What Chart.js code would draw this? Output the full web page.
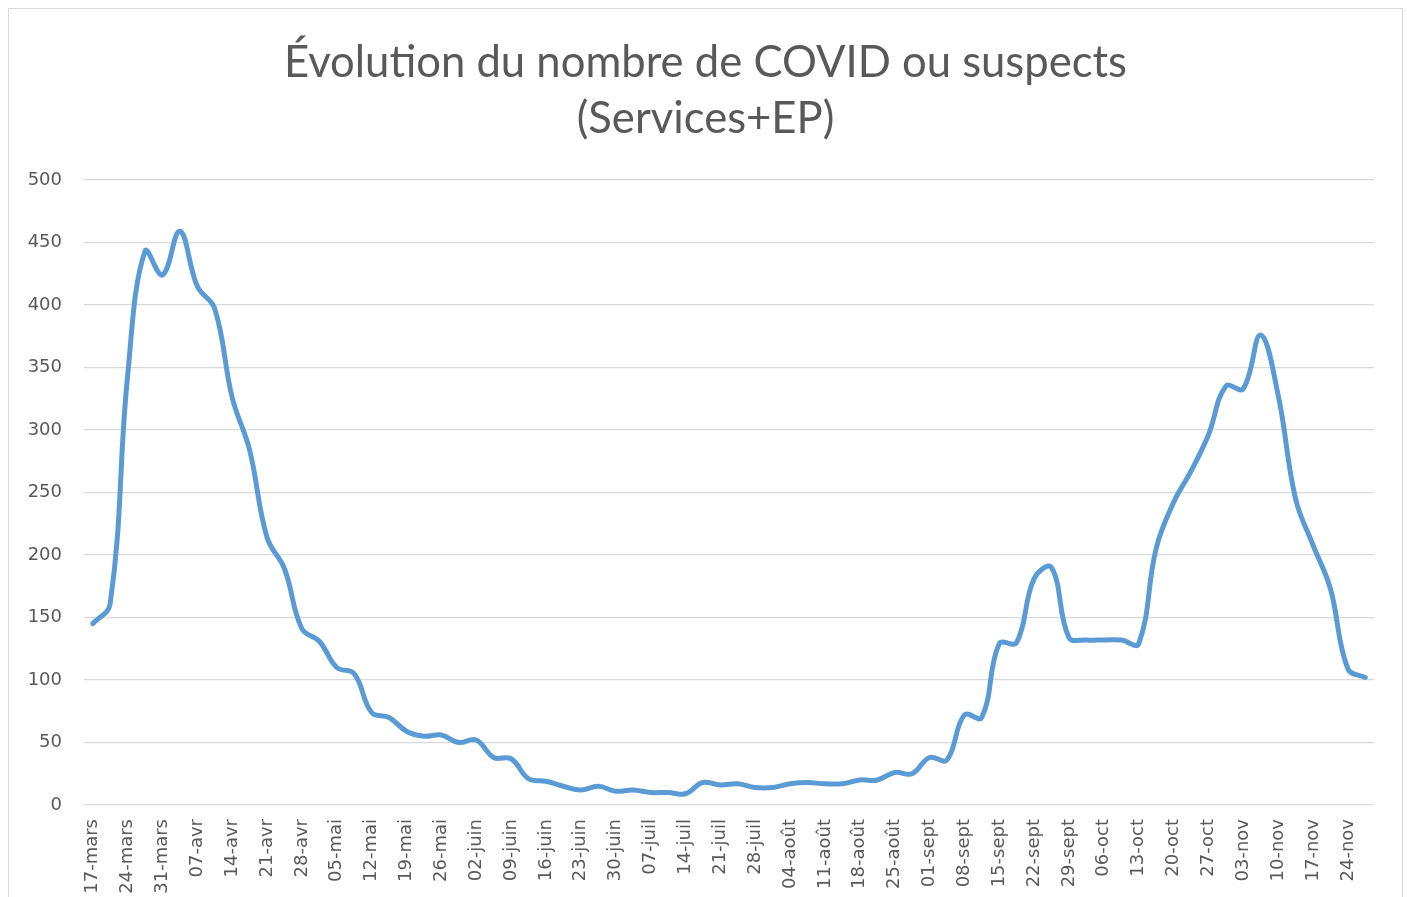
<!DOCTYPE html>
<html lang="fr">
<head>
<meta charset="UTF-8">
<title>Évolution du nombre de COVID ou suspects</title>
<script src="https://cdn.jsdelivr.net/npm/chart.js"></script>
<style>
  html, body { margin: 0; padding: 0; background: #ffffff; }
  #box {
    position: absolute; left: 8px; top: 8px;
    width: 1395px; height: 900px;
    border: 1px solid #d9d9d9; box-sizing: border-box;
  }
  #covidChart { display: block; }
</style>
</head>
<body>
<div id="box"><canvas id="covidChart" width="1393" height="898"></canvas></div>
<script>
  // dates (relevés mardi / vendredi)
  var dates = [
    '17-mars', '20-mars', '24-mars', '27-mars', '31-mars',
    '03-avr', '07-avr', '10-avr', '14-avr', '17-avr', '21-avr', '24-avr', '28-avr',
    '01-mai', '05-mai', '08-mai', '12-mai', '15-mai', '19-mai', '22-mai', '26-mai', '29-mai',
    '02-juin', '05-juin', '09-juin', '12-juin', '16-juin', '19-juin', '23-juin', '26-juin', '30-juin',
    '03-juil', '07-juil', '10-juil', '14-juil', '17-juil', '21-juil', '24-juil', '28-juil', '31-juil',
    '04-août', '07-août', '11-août', '14-août', '18-août', '21-août', '25-août', '28-août',
    '01-sept', '04-sept', '08-sept', '11-sept', '15-sept', '18-sept', '22-sept', '25-sept', '29-sept',
    '02-oct', '06-oct', '09-oct', '13-oct', '16-oct', '20-oct', '23-oct', '27-oct', '30-oct',
    '03-nov', '06-nov', '10-nov', '13-nov', '17-nov', '20-nov', '24-nov', '27-nov'
  ];

  // nombre de COVID ou suspects
  var cases = [
    145, 161, 343, 443, 424,
    459, 415, 397, 326, 284, 214, 189, 141,
    131, 110, 105, 74, 70, 59, 55, 56, 50, 52,
    38, 37, 21, 19, 15, 12, 15, 11,
    12, 10, 10, 9, 18, 16, 17, 14, 14,
    17, 18, 17, 17, 20, 20, 26, 25,
    38, 36, 72, 70, 129, 130, 181, 190, 134,
    132, 132, 132, 129, 205, 242, 267, 296, 335,
    333, 376, 328, 245, 208, 173, 109, 102
  ];

  var yTicks = [0, 50, 100, 150, 200, 250, 300, 350, 400, 450, 500];

  var tickFont = { family: 'DejaVu Sans', size: 18 };

  var config = {
    type: 'line',
    data: {
      labels: dates,
      datasets: [{
        label: 'COVID ou suspects',
        data: cases,
        borderColor: '#5b9bd5',
        borderWidth: 5,
        borderCapStyle: 'round',
        borderJoinStyle: 'round',
        fill: false,
        pointRadius: 0,
        tension: 0.4
      }]
    },
    options: {
      responsive: false,
      animation: false,
      layout: { padding: 0 },
      plugins: {
        legend: { display: false },
        tooltip: { enabled: false },
        title: {
          display: true,
          text: ['Évolution du nombre de COVID ou suspects', '(Services+EP)'],
          color: '#595959',
          font: { family: 'Lato', size: 43.6, weight: 'normal', lineHeight: 1.284 },
          padding: { top: 26, bottom: 33 }
        }
      },
      scales: {
        x: {
          offset: true,
          grid: { display: false },
          border: { display: false },
          ticks: {
            autoSkip: false,
            maxRotation: 90,
            minRotation: 90,
            padding: 6,
            color: '#595959',
            font: tickFont,
            callback: function (value, index) {
              return index % 2 === 0 ? this.getLabelForValue(value) : '';
            }
          },
          afterFit: function (axis) { axis.height = 102; }
        },
        y: {
          min: 0,
          max: 500,
          afterBuildTicks: function (axis) {
            axis.ticks = yTicks.map(function (v) { return { value: v }; });
          },
          grid: { color: '#d9d9d9', lineWidth: 1.2, drawTicks: false },
          border: { display: false },
          ticks: {
            padding: 22,
            color: '#595959',
            font: tickFont
          },
          afterFit: function (axis) { axis.width = 75; }
        },
        // empty right-hand margin so the title stays centred on the whole canvas
        yRight: {
          position: 'right',
          grid: { display: false },
          border: { display: false },
          ticks: { display: false },
          afterFit: function (axis) { axis.width = 28; }
        }
      }
    }
  };

  var covidChart = new Chart(document.getElementById('covidChart'), config);
</script>
</body>
</html>
